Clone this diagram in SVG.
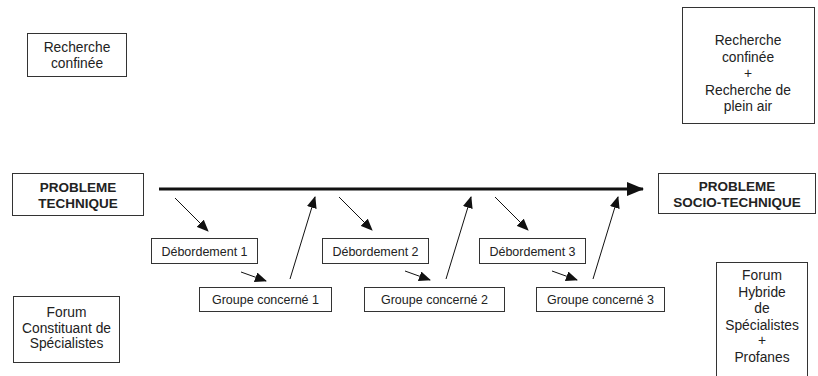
<svg xmlns="http://www.w3.org/2000/svg" width="818" height="376" viewBox="0 0 818 376">
<defs>
<style>
.box{fill:#fff;stroke:#333;stroke-width:1}
.t{font-family:"Liberation Sans",Arial,sans-serif;font-size:12.5px;fill:#222;text-anchor:middle}
.l{font-size:13.8px}
.b{font-weight:bold;font-size:13.5px}
.c{stroke:#111;stroke-width:1;fill:none}
.main{stroke:#111;stroke-width:3;fill:none}
</style>
<marker id="ah" markerUnits="userSpaceOnUse" markerWidth="12" markerHeight="10" refX="11" refY="5" orient="auto">
<path d="M0,0 L12,5 L0,10 z" fill="#111"/>
</marker>
<marker id="ahm" markerUnits="userSpaceOnUse" markerWidth="17" markerHeight="14" refX="16" refY="7" orient="auto">
<path d="M0,0 L17,7 L0,14 z" fill="#111"/>
</marker>
</defs>
<rect width="818" height="376" fill="#fff"/>
<g id="recherche-confinee">
<rect class="box" x="27.5" y="33.5" width="99" height="43"/>
<text class="t l" x="77" y="52">Recherche</text>
<text class="t l" x="77" y="68">confinée</text>
</g>
<g id="recherche-plein-air">
<rect class="box" x="682.5" y="7.5" width="132" height="116"/>
<text class="t l" x="748" y="45">Recherche</text>
<text class="t l" x="748" y="61.5">confinée</text>
<text class="t l" x="748" y="78">+</text>
<text class="t l" x="748" y="94.5">Recherche de</text>
<text class="t l" x="748" y="111">plein air</text>
</g>
<g id="probleme-technique">
<rect class="box" x="12.5" y="173.5" width="131" height="42"/>
<text class="t b" x="78" y="192">PROBLEME</text>
<text class="t b" x="78" y="207.5">TECHNIQUE</text>
</g>
<g id="probleme-socio-technique">
<rect class="box" x="658.5" y="173.5" width="157" height="40"/>
<text class="t b" x="737" y="190.5">PROBLEME</text>
<text class="t b" x="737" y="207">SOCIO-TECHNIQUE</text>
</g>
<g id="debordement-1">
<rect class="box" x="151.5" y="238.5" width="106" height="25"/>
<text class="t" x="204.5" y="255.5">Débordement 1</text>
</g>
<g id="debordement-2">
<rect class="box" x="322.5" y="238.5" width="106" height="25"/>
<text class="t" x="375.5" y="255.5">Débordement 2</text>
</g>
<g id="debordement-3">
<rect class="box" x="479.5" y="238.5" width="106" height="25"/>
<text class="t" x="532.5" y="255.5">Débordement 3</text>
</g>
<g id="groupe-1">
<rect class="box" x="199.5" y="287.5" width="132" height="24"/>
<text class="t" x="265.5" y="304">Groupe concerné 1</text>
</g>
<g id="groupe-2">
<rect class="box" x="364.5" y="287.5" width="140" height="24"/>
<text class="t" x="434.5" y="304">Groupe concerné 2</text>
</g>
<g id="groupe-3">
<rect class="box" x="536.5" y="287.5" width="128" height="24"/>
<text class="t" x="600.5" y="304">Groupe concerné 3</text>
</g>
<g id="forum-constituant">
<rect class="box" x="13.5" y="296.5" width="106" height="66"/>
<text class="t l" x="66.5" y="317">Forum</text>
<text class="t l" x="66.5" y="332.5">Constituant de</text>
<text class="t l" x="66.5" y="348">Spécialistes</text>
</g>
<g id="forum-hybride">
<rect class="box" x="716.5" y="262.5" width="91" height="120"/>
<text class="t l" x="762" y="280">Forum</text>
<text class="t l" x="762" y="296.5">Hybride</text>
<text class="t l" x="762" y="313">de</text>
<text class="t l" x="762" y="329.5">Spécialistes</text>
<text class="t l" x="762" y="345">+</text>
<text class="t l" x="762" y="362">Profanes</text>
</g>
<g id="connectors">
<line class="main" x1="159" y1="189" x2="643" y2="189" marker-end="url(#ahm)"/>
<line class="c" x1="175" y1="198" x2="208" y2="231" marker-end="url(#ah)"/>
<line class="c" x1="241" y1="272" x2="266" y2="281" marker-end="url(#ah)"/>
<line class="c" x1="290" y1="279" x2="315" y2="197" marker-end="url(#ah)"/>
<line class="c" x1="339" y1="197" x2="372" y2="230" marker-end="url(#ah)"/>
<line class="c" x1="405" y1="271" x2="430" y2="280" marker-end="url(#ah)"/>
<line class="c" x1="446" y1="279" x2="471" y2="197" marker-end="url(#ah)"/>
<line class="c" x1="495" y1="197" x2="528" y2="230" marker-end="url(#ah)"/>
<line class="c" x1="552" y1="271" x2="577" y2="280" marker-end="url(#ah)"/>
<line class="c" x1="593" y1="279" x2="618" y2="197" marker-end="url(#ah)"/>
</g>
</svg>
